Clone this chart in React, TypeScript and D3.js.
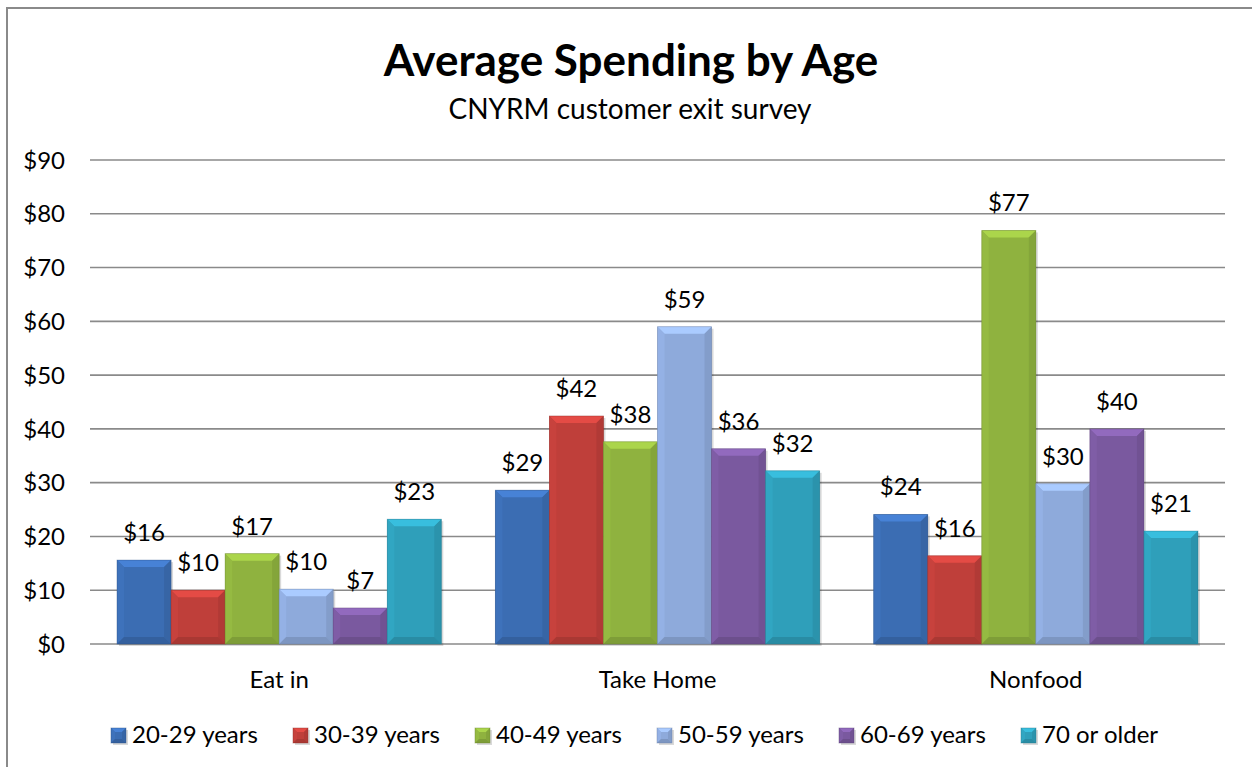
import React from "react";
import * as d3 from "d3";

const categories = ["Eat in", "Take Home", "Nonfood"];
const seriesNames = ["20-29 years", "30-39 years", "40-49 years", "50-59 years", "60-69 years", "70 or older"];
const age2029 = [15.6, 28.6, 24.1];
const age3039 = [10.0, 42.4, 16.4];
const age4049 = [16.8, 37.6, 76.9];
const age5059 = [10.2, 59.0, 29.8];
const age6069 = [6.7, 36.3, 40.0];
const age70 = [23.2, 32.2, 21.0];
const seriesValues = [age2029, age3039, age4049, age5059, age6069, age70];
const yTicks = [0, 10, 20, 30, 40, 50, 60, 70, 80, 90];

const baseColors = ["#3b6db3", "#bf3f3a", "#8fb23f", "#8eaadb", "#7a599f", "#2f9fba"];

const FONT = "Lato, 'Open Sans', sans-serif";

const W = 1252;
const H = 767;
const plotLeft = 90;
const plotRight = 1225;
const plotTop = 160;
const plotBottom = 644;

function Bar({ x, y, w, h, color, b0 = 7 }: { x: number; y: number; w: number; h: number; color: string; b0?: number }) {
  const c = d3.color(color)!;
  const light = d3.color(color)!.brighter(0.5).formatHex();
  const lightSide = d3.color(color)!.brighter(0.12).formatHex();
  const darkSide = d3.color(color)!.darker(0.22).formatHex();
  const darkBottom = d3.color(color)!.darker(0.35).formatHex();
  const b = Math.min(b0, h / 2);
  const x2 = x + w;
  const y2 = y + h;
  const pts = (arr: number[][]) => arr.map((p) => p.join(",")).join(" ");
  return (
    <g>
      <rect x={x + 2} y={y + 2} width={w} height={h} fill="#000" opacity={0.15} />
      <rect x={x} y={y} width={w} height={h} fill={c.formatHex()} />
      <polygon points={pts([[x, y], [x2, y], [x2 - b, y + b], [x + b, y + b]])} fill={light} />
      <polygon points={pts([[x, y], [x + b, y + b], [x + b, y2 - b], [x, y2]])} fill={lightSide} />
      <polygon points={pts([[x2, y], [x2, y2], [x2 - b, y2 - b], [x2 - b, y + b]])} fill={darkSide} />
      <polygon points={pts([[x, y2], [x + b, y2 - b], [x2 - b, y2 - b], [x2, y2]])} fill={darkBottom} />
      <rect x={x} y={y} width={w} height={h} fill="none" stroke={d3.color(color)!.darker(0.8).formatHex()} strokeWidth={0.8} opacity={0.5} />
    </g>
  );
}

export default function App() {
  const y = d3.scaleLinear().domain([0, 90]).range([plotBottom, plotTop]);
  const x0 = d3.scaleBand<string>().domain(categories).range([plotLeft, plotRight]).paddingInner(0).paddingOuter(0);
  const band = x0.bandwidth();
  const barW = band / 7;
  const x1 = d3
    .scaleBand<number>()
    .domain(d3.range(seriesNames.length))
    .range([barW / 2, band - barW / 2]);

  return (
    <div style={{ position: "absolute", left: 0, top: 0 }}>
      <svg width={W} height={H} style={{ display: "block", fontFamily: FONT }}>
        <rect x={0} y={0} width={W} height={H} fill="#fff" />
        <rect x={7} y={8} width={1400} height={900} fill="none" stroke="#8a8a8a" strokeWidth={2} />
        <text x={631} y={76} textAnchor="middle" fontSize={44} fontWeight="bold" fill="#000">
          Average Spending by Age
        </text>
        <text x={630} y={119} textAnchor="middle" fontSize={28} fill="#000">
          CNYRM customer exit survey
        </text>
        {yTicks.map((t) => (
          <g key={t}>
            <line x1={plotLeft} x2={plotRight} y1={y(t)} y2={y(t)} stroke="#8a8a8a" strokeWidth={1.6} />
            <text x={65} y={y(t)} dy="0.36em" textAnchor="end" fontSize={24} fill="#000">
              {"$" + t}
            </text>
          </g>
        ))}
        {categories.map((cat, ci) =>
          seriesValues.map((vals, si) => {
            const bx = (x0(cat) as number) + (x1(si) as number);
            const by = y(vals[ci]);
            const bh = y(0) - by;
            return (
              <Bar key={cat + si} x={bx} y={by} w={x1.bandwidth()} h={bh} color={baseColors[si]} />
            );
          })
        )}
        {categories.map((cat, ci) =>
          seriesValues.map((vals, si) => {
            const bx = (x0(cat) as number) + (x1(si) as number) + x1.bandwidth() / 2;
            const by = y(vals[ci]);
            return (
              <text key={"l" + cat + si} x={bx} y={by - 19} textAnchor="middle" fontSize={24} fill="#000">
                {"$" + Math.round(vals[ci])}
              </text>
            );
          })
        )}
        {categories.map((cat) => (
          <text key={"c" + cat} x={(x0(cat) as number) + band / 2} y={688} textAnchor="middle" fontSize={24} fill="#000">
            {cat}
          </text>
        ))}
        {seriesNames.map((name, i) => {
          const lx = 111 + i * 182;
          return (
            <g key={name}>
              <Bar x={lx} y={728} w={15} h={15} color={baseColors[i]} b0={4} />
              <text x={lx + 21} y={743} fontSize={24} fill="#000">
                {name}
              </text>
            </g>
          );
        })}
      </svg>
    </div>
  );
}
